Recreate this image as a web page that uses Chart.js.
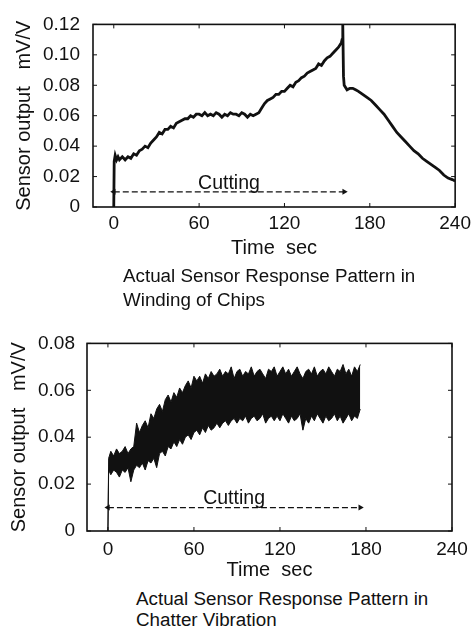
<!DOCTYPE html>
<html>
<head>
<meta charset="utf-8">
<script src="https://cdn.jsdelivr.net/npm/chart.js@4.4.1/dist/chart.umd.min.js"></script>
<style>
  html, body { margin: 0; padding: 0; background: #fff; }
  body { width: 476px; height: 628px; position: relative; overflow: hidden; font-family: "Liberation Sans", Arial, sans-serif; color: #111; }
  .box { position: absolute; left: 0; width: 476px; height: 265px; }
  .caption { position: absolute; font-size: 18.8px; white-space: nowrap; }
</style>
</head>
<body>
<div class="box" style="top:0"><canvas id="chipChart" width="476" height="265"></canvas></div>
<div class="caption" style="left:123px; top:264px; line-height:24px">Actual Sensor Response Pattern in<br>Winding of Chips</div>
<div class="box" style="top:320px"><canvas id="chatterChart" width="476" height="265"></canvas></div>
<div class="caption" style="left:136px; top:588px; line-height:21px">Actual Sensor Response Pattern in<br>Chatter Vibration</div>
<script>
const FONT = '"Liberation Sans", Arial, Helvetica, sans-serif';
const INK = '#111';

// time axis, same for both plots
const timeTicks = [0, 60, 120, 180, 240];

// winding of chips (sec / mV/V)
const chipTime = [
    0, 0.3, 1, 2, 3, 4, 6, 8, 10, 12,
    14, 16, 18, 20, 22, 24, 26, 28, 30, 32,
    34, 36, 38, 40, 42, 44, 46, 48, 50, 52,
    54, 56, 58, 60, 62, 64, 66, 68, 70, 72,
    74, 76, 78, 80, 82, 84, 86, 88, 90, 92,
    94, 96, 98, 100, 102, 104, 106, 108, 110, 112,
    114, 116, 118, 120, 122, 124, 126, 128, 130, 132,
    134, 136, 138, 140, 142, 144, 146, 148, 150, 152,
    154, 156, 158, 160, 160.5, 161, 161.5, 162, 164, 166,
    168, 170, 172, 175, 178, 181, 184, 187, 190, 193,
    196, 199, 202, 205, 208, 211, 214, 217, 220, 223,
    226, 229, 232, 235, 238, 240
];
const chipOutput = [
    0, 0.030, 0.034, 0.031, 0.033, 0.031, 0.033, 0.031, 0.033, 0.032,
    0.035, 0.034, 0.037, 0.038, 0.040, 0.039, 0.042, 0.044, 0.046, 0.049,
    0.048, 0.051, 0.051, 0.053, 0.052, 0.055, 0.056, 0.057, 0.058, 0.058,
    0.060, 0.059, 0.061, 0.061, 0.060, 0.062, 0.060, 0.061, 0.060, 0.062,
    0.061, 0.059, 0.061, 0.060, 0.062, 0.061, 0.061, 0.060, 0.062, 0.061,
    0.059, 0.061, 0.060, 0.061, 0.062, 0.065, 0.068, 0.070, 0.071, 0.072,
    0.074, 0.074, 0.076, 0.076, 0.078, 0.080, 0.079, 0.082, 0.083, 0.085,
    0.086, 0.088, 0.089, 0.090, 0.091, 0.094, 0.093, 0.096, 0.098, 0.099,
    0.101, 0.103, 0.105, 0.108, 0.110, 0.120, 0.086, 0.080, 0.077, 0.078,
    0.078, 0.077, 0.076, 0.074, 0.072, 0.070, 0.067, 0.064, 0.061, 0.057,
    0.053, 0.049, 0.046, 0.043, 0.040, 0.037, 0.035, 0.032, 0.030, 0.028,
    0.026, 0.024, 0.021, 0.019, 0.018, 0.017
];
const chipTicks = [0, 0.02, 0.04, 0.06, 0.08, 0.10, 0.12];
const chipTickLabels = ['0', '0.02', '0.04', '0.06', '0.08', '0.10', '0.12'];
const chipCutting = [0, 162];

// chatter vibration: upper and lower edge of the noisy band
const chatterTime = [
    0, 0.5, 2, 4, 6, 8, 10, 12, 14, 16,
    18, 20, 22, 24, 26, 28, 30, 32, 34, 36,
    38, 40, 42, 44, 46, 48, 50, 52, 54, 56,
    58, 60, 62, 64, 66, 68, 70, 72, 74, 76,
    78, 80, 82, 84, 86, 88, 90, 92, 94, 96,
    98, 100, 102, 104, 106, 108, 110, 112, 114, 116,
    118, 120, 122, 124, 126, 128, 130, 132, 134, 136,
    138, 140, 142, 144, 146, 148, 150, 152, 154, 156,
    158, 160, 162, 164, 166, 168, 170, 172, 174, 176
];
const chatterHigh = [
    0, 0.031, 0.034, 0.032, 0.035, 0.033, 0.034, 0.036, 0.033, 0.035,
    0.036, 0.046, 0.042, 0.045, 0.047, 0.044, 0.050, 0.048, 0.052, 0.054,
    0.051, 0.056, 0.058, 0.055, 0.059, 0.057, 0.061, 0.059, 0.062, 0.064,
    0.061, 0.066, 0.064, 0.066, 0.063, 0.067, 0.065, 0.068, 0.066, 0.067,
    0.069, 0.066, 0.068, 0.067, 0.070, 0.065, 0.068, 0.069, 0.066, 0.068,
    0.067, 0.070, 0.066, 0.068, 0.069, 0.067, 0.065, 0.069, 0.068, 0.070,
    0.066, 0.068, 0.070, 0.067, 0.069, 0.066, 0.068, 0.070, 0.067, 0.065,
    0.068, 0.069, 0.067, 0.070, 0.066, 0.068, 0.069, 0.067, 0.070, 0.068,
    0.066, 0.069, 0.068, 0.071, 0.067, 0.069, 0.066, 0.070, 0.068, 0.071
];
const chatterLow = [
    0, 0.026, 0.024, 0.026, 0.025, 0.023, 0.026, 0.025, 0.027, 0.021,
    0.026, 0.028, 0.027, 0.029, 0.026, 0.030, 0.029, 0.031, 0.027, 0.033,
    0.034, 0.032, 0.036, 0.035, 0.038, 0.036, 0.039, 0.037, 0.040, 0.041,
    0.039, 0.042, 0.043, 0.041, 0.044, 0.042, 0.045, 0.043, 0.044, 0.046,
    0.044, 0.046, 0.047, 0.045, 0.047, 0.048, 0.046, 0.048, 0.047, 0.049,
    0.046, 0.048, 0.049, 0.047, 0.048, 0.050, 0.046, 0.048, 0.049, 0.047,
    0.049, 0.047, 0.050, 0.048, 0.046, 0.049, 0.047, 0.048, 0.050, 0.043,
    0.048, 0.046, 0.049, 0.047, 0.050, 0.048, 0.046, 0.049, 0.047, 0.048,
    0.050, 0.047, 0.049, 0.046, 0.048, 0.050, 0.047, 0.049, 0.048, 0.052
];
const chatterTicks = [0, 0.02, 0.04, 0.06, 0.08];
const chatterTickLabels = ['0', '0.02', '0.04', '0.06', '0.08'];
const chatterCutting = [0, 176];

const CUT_LEVEL = 0.01;

function pts(xs, ys) {
    return xs.map((x, i) => ({ x: x, y: ys[i] }));
}

// box round the plot with small inward ticks
const frame = {
    id: 'frame',
    afterDatasetsDraw(chart) {
        const { ctx, chartArea: a, scales: { x, y } } = chart;
        ctx.save();
        ctx.strokeStyle = INK;
        ctx.lineWidth = 1.6;
        ctx.strokeRect(a.left, a.top, a.width, a.height);
        ctx.lineWidth = 1;
        ctx.beginPath();
        x.ticks.forEach(t => {
            const px = x.getPixelForValue(t.value);
            ctx.moveTo(px, a.bottom); ctx.lineTo(px, a.bottom - 4);
            ctx.moveTo(px, a.top); ctx.lineTo(px, a.top + 4);
        });
        y.ticks.forEach(t => {
            const py = y.getPixelForValue(t.value);
            ctx.moveTo(a.left, py); ctx.lineTo(a.left + 4, py);
            ctx.moveTo(a.right, py); ctx.lineTo(a.right - 4, py);
        });
        ctx.stroke();
        ctx.restore();
    }
};

// "Cutting" text above the arrow
const cuttingLabel = {
    id: 'cuttingLabel',
    afterDatasetsDraw(chart, args, opts) {
        const { ctx, scales: { x, y } } = chart;
        const px = x.getPixelForValue((opts.range[0] + opts.range[1]) / 2);
        const py = y.getPixelForValue(CUT_LEVEL);
        ctx.save();
        ctx.font = '19.5px ' + FONT;
        ctx.fillStyle = INK;
        ctx.textAlign = 'center';
        ctx.textBaseline = 'alphabetic';
        ctx.fillText('Cutting', px, py - opts.lift);
        ctx.restore();
    }
};

function makeChart(id, cfg) {
    const arrow = {
        data: [{ x: cfg.cutting[0], y: CUT_LEVEL }, { x: cfg.cutting[1], y: CUT_LEVEL }],
        borderColor: INK,
        borderWidth: 1.2,
        borderDash: [6, 3],
        pointStyle: 'triangle',
        pointRotation: [-90, 90],
        pointRadius: 3.5,
        pointBackgroundColor: INK,
        pointBorderWidth: 0,
        fill: false
    };
    return new Chart(document.getElementById(id), {
        type: 'line',
        data: { datasets: cfg.datasets.concat([arrow]) },
        options: {
            responsive: false,
            animation: false,
            devicePixelRatio: 1,
            layout: { padding: cfg.padding },
            plugins: {
                legend: { display: false },
                tooltip: { enabled: false },
                cuttingLabel: { range: cfg.cutting, lift: cfg.lift }
            },
            scales: {
                x: {
                    type: 'linear',
                    min: -14.6,
                    max: 240,
                    grid: { display: false, drawTicks: false },
                    border: { display: false },
                    afterBuildTicks: s => { s.ticks = timeTicks.map(v => ({ value: v })); },
                    afterFit: s => { s.height = cfg.xHeight; },
                    ticks: { color: INK, font: { family: FONT, size: 19 }, padding: cfg.xPad, maxRotation: 0, autoSkip: false },
                    title: { display: true, text: 'Time  sec', color: INK, font: { family: FONT, size: 20 }, padding: { top: 0, bottom: cfg.xTitlePad } }
                },
                y: {
                    type: 'linear',
                    min: 0,
                    max: cfg.yTicks[cfg.yTicks.length - 1],
                    grid: { display: false, drawTicks: false },
                    border: { display: false },
                    afterBuildTicks: s => { s.ticks = cfg.yTicks.map(v => ({ value: v })); },
                    afterFit: s => { s.width = cfg.yWidth; },
                    ticks: { color: INK, font: { family: FONT, size: 19 }, padding: cfg.yPad, autoSkip: false,
                             callback: (v, i) => cfg.yLabels[i] },
                    title: { display: true, text: 'Sensor output   mV/V', color: INK, font: { family: FONT, size: 20 }, padding: { top: cfg.yTitlePad, bottom: 0 } }
                }
            }
        },
        plugins: [frame, cuttingLabel]
    });
}

makeChart('chipChart', {
    datasets: [{
        data: pts(chipTime, chipOutput),
        borderColor: INK,
        borderWidth: 2.8,
        pointRadius: 0,
        tension: 0,
        fill: false
    }],
    cutting: chipCutting,
    lift: 3,
    yTicks: chipTicks,
    yLabels: chipTickLabels,
    padding: { top: 20, right: 18, bottom: 0, left: 0 },
    yWidth: 93, xHeight: 58, yPad: 13, xPad: 5, xTitlePad: 5, yTitlePad: 12
});

makeChart('chatterChart', {
    datasets: [{
        data: pts(chatterTime, chatterHigh),
        borderColor: INK,
        borderWidth: 1,
        backgroundColor: INK,
        pointRadius: 0,
        tension: 0,
        fill: '+1'
    }, {
        data: pts(chatterTime, chatterLow),
        borderColor: INK,
        borderWidth: 1,
        pointRadius: 0,
        tension: 0,
        fill: false
    }],
    cutting: chatterCutting,
    lift: 4,
    yTicks: chatterTicks,
    yLabels: chatterTickLabels,
    padding: { top: 21, right: 24, bottom: 0, left: 0 },
    yWidth: 87, xHeight: 54, yPad: 12, xPad: 7, xTitlePad: 3, yTitlePad: 7
});
</script>
</body>
</html>
